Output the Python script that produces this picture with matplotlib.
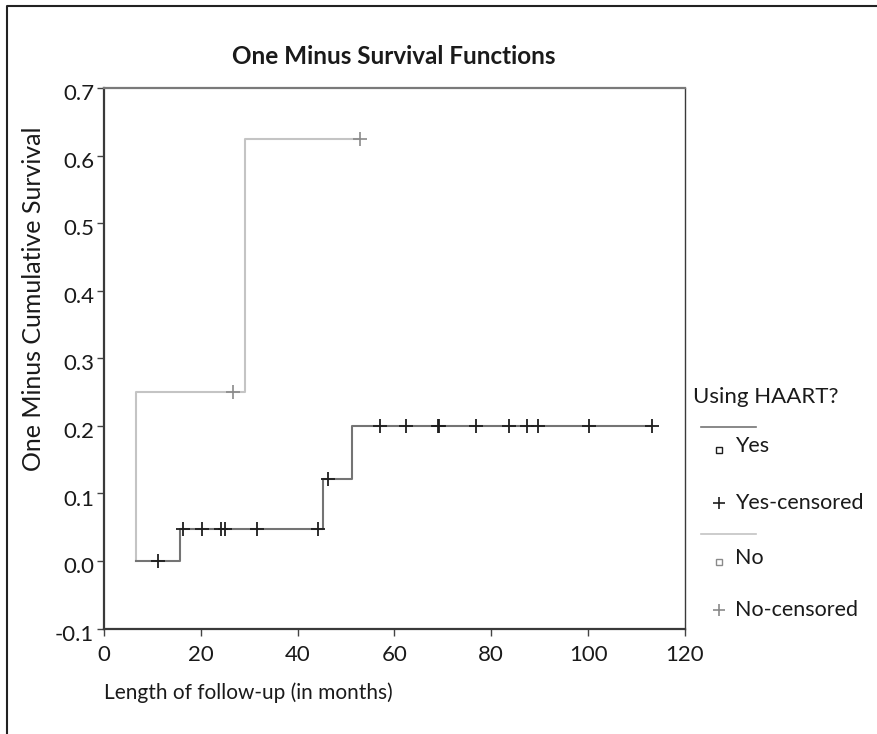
import matplotlib
matplotlib.use("Agg")
from matplotlib import pyplot as plt
from matplotlib.lines import Line2D
from matplotlib.transforms import ScaledTranslation

plt.rcParams['font.family'] = ['Lato', 'DejaVu Sans']

# Kaplan-Meier step curves (one minus survival)
yes_time = [6.6, 15.7, 45.3, 51.2, 113.1]
yes_value = [0.0, 0.047, 0.121, 0.2, 0.2]
yes_cens_time = [11.2, 16.4, 20.3, 24.2, 25.0, 31.5, 44.3,
                 46.3, 57.0, 62.4, 68.9, 69.3, 76.8, 83.7, 87.3, 89.6, 100.1, 113.1]
yes_cens_value = [0.0, 0.047, 0.047, 0.047, 0.047, 0.047, 0.047,
                  0.121, 0.2, 0.2, 0.2, 0.2, 0.2, 0.2, 0.2, 0.2, 0.2, 0.2]

no_time = [6.6, 6.6, 29.1, 52.9]
no_value = [0.0, 0.25, 0.625, 0.625]
no_cens_time = [26.7, 52.9]
no_cens_value = [0.25, 0.625]

x_ticks = [0, 20, 40, 60, 80, 100, 120]
y_ticks = [-0.1, 0.0, 0.1, 0.2, 0.3, 0.4, 0.5, 0.6, 0.7]

YES_LINE = '#747474'
YES_MARK = '#1e1e1e'
NO_LINE = '#c4c4c4'
NO_MARK = '#8a8a8a'


def main():
    fig = plt.figure(figsize=(8.77, 7.34), dpi=100)
    ax = fig.add_axes([0.1186, 0.1436, 0.6624, 0.7365])

    ax.step(no_time, no_value, where='post', color=NO_LINE, lw=1.5)
    ax.plot(no_cens_time, no_cens_value, ls='none', marker='+', ms=10, mew=1.2, color=NO_MARK)
    ax.step(yes_time, yes_value, where='post', color=YES_LINE, lw=1.5)
    ax.plot(yes_cens_time, yes_cens_value, ls='none', marker='+', ms=10, mew=1.3, color=YES_MARK)

    ax.set_xlim(0, 120)
    ax.set_ylim(-0.1, 0.7)
    ax.set_xticks(x_ticks)
    ax.set_yticks(y_ticks)
    ax.set_yticklabels(['%.1f' % v for v in y_ticks])
    ax.tick_params(direction='out', length=5, width=1, colors='#444444',
                   labelsize=16, labelcolor='#1a1a1a')
    ax.tick_params(axis='x', pad=7)
    ax.tick_params(axis='y', pad=2)
    # y labels sit a little below their ticks in the original
    shift = ScaledTranslation(0, -3 / 72, fig.dpi_scale_trans)
    for lab in ax.get_yticklabels():
        lab.set_transform(lab.get_transform() + shift)
    for side in ['left', 'bottom']:
        ax.spines[side].set_color('#3a3a3a')
        ax.spines[side].set_linewidth(1.6)
    ax.spines['top'].set_color('#7a7a7a')
    ax.spines['top'].set_linewidth(1.6)
    ax.spines['right'].set_color('#3a3a3a')
    ax.spines['right'].set_linewidth(1.0)

    W, H = 877.0, 734.0

    def fx(px):
        return px / W

    def fy(py):
        return 1 - py / H

    fig.text(fx(394), fy(57), 'One Minus Survival Functions', ha='center', va='center',
             fontsize=17.5, fontweight='bold', color='#1a1a1a')
    fig.text(fx(104), fy(693), 'Length of follow-up (in months)', ha='left', va='center',
             fontsize=15, color='#1a1a1a')
    fig.text(fx(34), fy(299), 'One Minus Cumulative Survival', ha='center', va='center',
             rotation=90, fontsize=18, color='#1a1a1a')

    # legend drawn by hand, as in the original
    fig.text(fx(693), fy(397), 'Using HAART?', ha='left', va='center', fontsize=16, color='#1a1a1a')
    rows = [
        (427, YES_LINE, 'Yes', YES_MARK, 446, 503),
        (534, NO_LINE, 'No', NO_MARK, 558, 610),
    ]
    for line_y, line_col, label, mk_col, row_y, cens_y in rows:
        fig.add_artist(Line2D([fx(701), fx(756)], [fy(line_y), fy(line_y)], color=line_col, lw=1.2))
        fig.add_artist(Line2D([fx(719)], [fy(row_y + 4)], ls='none', marker='s', ms=5,
                              mfc='white', mec=mk_col, mew=1.0))
        fig.text(fx(735), fy(row_y), label, ha='left', va='center', fontsize=15.5, color='#1a1a1a')
        fig.add_artist(Line2D([fx(719)], [fy(cens_y)], ls='none', marker='+', ms=9,
                              mew=1.2, color=mk_col))
        fig.text(fx(735), fy(cens_y), label + '-censored', ha='left', va='center',
                 fontsize=15.5, color='#1a1a1a')

    # outer frame (left and top edges only visible)
    fig.add_artist(Line2D([fx(7), fx(7), 1.0], [0.0, fy(6), fy(6)], color='#222222', lw=1.5))

    fig.savefig('out.png', dpi=100)


if __name__ == '__main__':
    main()
